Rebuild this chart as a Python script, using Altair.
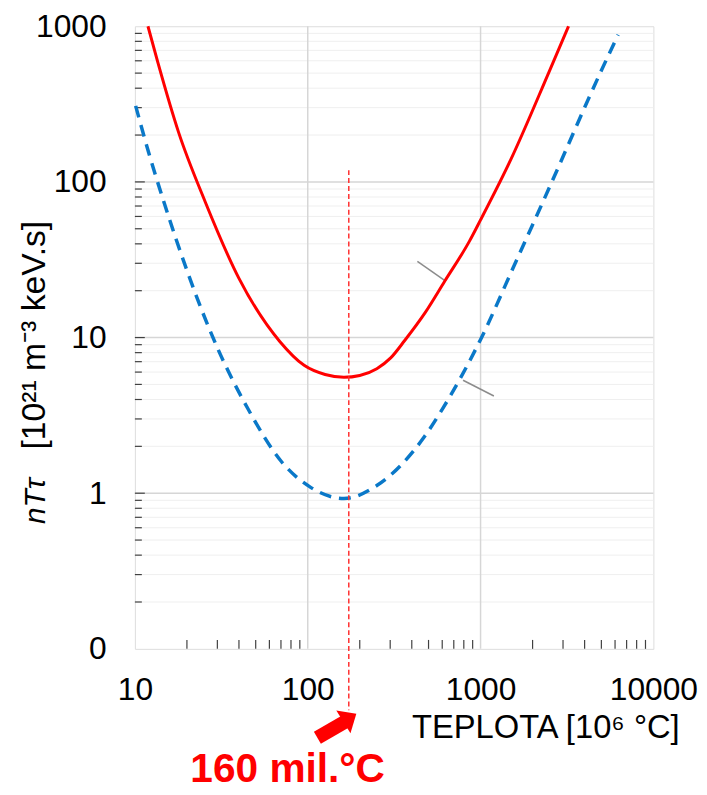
import altair as alt
import pandas as pd

FONT = "Liberation Sans, Arial, sans-serif"
RED = "#ff0000"
BLUE = "#0a78c8"

# --- curves ---
RED_X = [11.9, 13.6, 17.9, 25.5, 40, 68.9, 95.3, 126, 162, 200, 251, 302, 364, 479, 620, 861, 1000, 1500, 2477, 3228]
RED_Y = [1000, 581, 208, 74.6, 24, 9.44, 6.63, 5.79, 5.56, 5.71, 6.31, 7.4, 9.57, 14.5, 23, 41.5, 57, 140, 502, 1000]
BLUE_X = [10.1, 12.0, 14.7, 20, 30, 45, 70, 104, 162, 251, 475, 606, 1004, 1560, 2500, 4976, 6251]
BLUE_Y = [308, 155, 74.6, 27, 8.6, 3.5, 1.61, 1.09, 0.925, 1.12, 2.32, 3.52, 9.8, 28.8, 92, 514, 881]

# --- axes / grid values ---
X_LABELS = [10, 100, 1000, 10000]
Y_LABELS = [0.1, 1, 10, 100, 1000]
X_GRID = [100, 1000]
Y_GRID = [1, 10, 100]
MULT = [2, 3, 4, 5, 6, 7, 8, 9]
X_MINOR = [m * d for d in [10, 100, 1000] for m in MULT]
Y_MINOR = [m * d for d in [0.1, 1, 10, 100] for m in MULT]

# --- annotations ---
LEAD_X = [431, 792]
LEAD_Y = [30.9, 5.32]
LEAD_X2 = [625, 1194]
LEAD_Y2 = [23.1, 4.21]
MARK_X = [172.8]
MARK_Y = [119]
MARK_Y2 = [0.0403]
SHAFT_X = [113.7]
SHAFT_Y = [0.02684]
SHAFT_X2 = [165.4]
SHAFT_Y2 = [0.03418]
HEAD_X = [175.3]
HEAD_Y = [0.0360]
NOTE_X = [76.5]
NOTE_Y = [0.0140]
NOTE_TEXT = ["160 mil.°C"]

W, H = 523, 628

xs = alt.Scale(type="log", domain=[10, 10000], nice=False)
ys = alt.Scale(type="log", domain=[0.1, 1000], nice=False)

x_axis = alt.Axis(
    values=X_LABELS, format="d", labelFontSize=32, labelFont=FONT, labelColor="#000000",
    labelPadding=26, ticks=False, domain=False, grid=False, labelFlush=False,
    title="TEPLOTA [10⁶ °C]", titleFont=FONT, titleFontSize=33, titleFontWeight="normal",
    titleColor="#000000", titleX=549, titleY=89, titleAlign="right",
    titleBaseline="alphabetic", titleAngle=0,
)
y_axis = alt.Axis(
    values=Y_LABELS, labelExpr="datum.value < 0.5 ? '0' : format(datum.value, 'd')",
    labelFontSize=32, labelFont=FONT, labelColor="#000000", labelPadding=29,
    ticks=False, domain=False, grid=False, labelFlush=False, title="",
)


def X(f="x"):
    return alt.X(f"{f}:Q", scale=xs, axis=x_axis)


def Y(f="y"):
    return alt.Y(f"{f}:Q", scale=ys, axis=y_axis)


red_df = pd.DataFrame({"x": RED_X, "y": RED_Y})
blue_df = pd.DataFrame({"x": BLUE_X, "y": BLUE_Y})

minor_grid = alt.Chart(pd.DataFrame({"y": Y_MINOR})).mark_rule(
    color="#efefef", strokeWidth=1).encode(y=Y())
major_grid = alt.Chart(pd.DataFrame({"y": Y_GRID})).mark_rule(
    color="#d6d6d6", strokeWidth=1.5).encode(y=Y())
vert_grid = alt.Chart(pd.DataFrame({"x": X_GRID})).mark_rule(
    color="#d6d6d6", strokeWidth=1.5).encode(x=X())

y_minor_ticks = alt.Chart(pd.DataFrame({"y": Y_MINOR})).mark_rule(
    color="#404040", strokeWidth=1.2).encode(y=Y(), x=alt.value(0), x2=alt.value(7))
y_major_ticks = alt.Chart(pd.DataFrame({"y": Y_GRID})).mark_rule(
    color="#404040", strokeWidth=1.2).encode(y=Y(), x=alt.value(0), x2=alt.value(10))
x_minor_ticks = alt.Chart(pd.DataFrame({"x": X_MINOR})).mark_rule(
    color="#404040", strokeWidth=1.2).encode(x=X(), y=alt.value(H), y2=alt.value(H - 9))

leaders = alt.Chart(pd.DataFrame({"x": LEAD_X, "y": LEAD_Y, "x2": LEAD_X2, "y2": LEAD_Y2})).mark_rule(
    color="#8c8c8c", strokeWidth=1.5).encode(x=X(), y=Y(), x2="x2:Q", y2="y2:Q")

blue_line = alt.Chart(blue_df).mark_line(
    color=BLUE, strokeWidth=3.5, strokeDash=[12, 8], interpolate="monotone").encode(x=X(), y=Y())
red_line = alt.Chart(red_df).mark_line(
    color=RED, strokeWidth=3, interpolate="monotone").encode(x=X(), y=Y())

marker = alt.Chart(pd.DataFrame({"x": MARK_X, "y": MARK_Y, "y2": MARK_Y2})).mark_rule(
    color="#ff3030", strokeWidth=1.5, strokeDash=[5, 3]).encode(x=X(), y=Y(), y2="y2:Q")

shaft = alt.Chart(pd.DataFrame({"x": SHAFT_X, "y": SHAFT_Y, "x2": SHAFT_X2, "y2": SHAFT_Y2})).mark_rule(
    color=RED, strokeWidth=14, strokeCap="butt").encode(x=X(), y=Y(), x2="x2:Q", y2="y2:Q")
head = alt.Chart(pd.DataFrame({"x": HEAD_X, "y": HEAD_Y})).mark_point(
    shape="M0,-0.57L1,0.57L-1,0.57Z", size=729, filled=True, color=RED, opacity=1,
    strokeWidth=0, angle=58).encode(x=X(), y=Y())
note = alt.Chart(pd.DataFrame({"x": NOTE_X, "y": NOTE_Y, "t": NOTE_TEXT})).mark_text(
    font=FONT, fontSize=41, fontWeight="bold", color=RED, align="center",
    baseline="alphabetic").encode(x=X(), y=Y(), text="t:N")

ytitle_a = alt.Chart(pd.DataFrame({"t": ["nTτ"]})).mark_text(
    font=FONT, fontSize=30, fontStyle="italic", color="#000000", angle=270,
    align="left", baseline="alphabetic").encode(x=alt.value(-91), y=alt.value(502), text="t:N")
ytitle_b = alt.Chart(pd.DataFrame({"t": ["[10²¹  m⁻³  keV.s]"]})).mark_text(
    font=FONT, fontSize=34, color="#000000", angle=270,
    align="left", baseline="alphabetic").encode(x=alt.value(-91), y=alt.value(427), text="t:N")

chart = alt.layer(
    minor_grid, major_grid, vert_grid,
    y_minor_ticks, y_major_ticks, x_minor_ticks,
    leaders, blue_line, red_line, marker, shaft, head, note, ytitle_a, ytitle_b,
).properties(
    width=W, height=H,
    padding={"left": 128, "top": 15, "right": 46, "bottom": 144},
    autosize=alt.AutoSizeParams(type="none"),
).configure_view(stroke="#404040", strokeWidth=1.5).configure(background="white")

chart.save("out.html", embed_options={"renderer": "svg", "actions": False})
